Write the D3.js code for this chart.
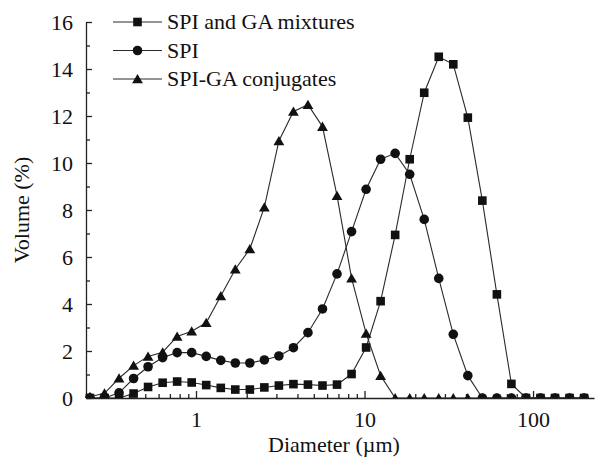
<!DOCTYPE html>
<html>
<head>
<meta charset="utf-8">
<script src="https://cdn.jsdelivr.net/npm/d3@7"></script>
<style>
  body { margin: 0; background: #fff; }
</style>
</head>
<body>
<div id="chart"></div>
<script>
// Particle size grid (µm) and volume (%)
const diameters = [0.2349, 0.2865, 0.3495, 0.4263, 0.5196, 0.634, 0.7731, 0.943, 1.150, 1.403,
  1.711, 2.087, 2.545, 3.104, 3.786, 4.617, 5.631, 6.868, 8.378, 10.22,
  12.46, 15.20, 18.54, 22.61, 27.57, 33.63, 41.02, 50.03, 61.02, 74.42,
  90.77, 110.7, 135.0, 164.7, 200.9];

const mixtures = [0, 0, 0, 0.19, 0.47, 0.65, 0.7, 0.66, 0.55, 0.43,
  0.36, 0.36, 0.45, 0.53, 0.59, 0.57, 0.53, 0.57, 1.02, 2.15,
  4.12, 6.94, 10.16, 12.99, 14.52, 14.2, 11.93, 8.4, 4.41, 0.6,
  0, 0, 0, 0, 0];

const spi = [0, 0, 0.22, 0.83, 1.33, 1.72, 1.93, 1.93, 1.77, 1.6,
  1.49, 1.49, 1.62, 1.79, 2.14, 2.78, 3.79, 5.28, 7.08, 8.88,
  10.16, 10.41, 9.52, 7.6, 5.09, 2.71, 0.95, 0, 0, 0,
  0, 0, 0, 0, 0];

const conjugates = [0.05, 0.2, 0.84, 1.38, 1.77, 1.95, 2.62, 2.84, 3.2, 4.34,
  5.48, 6.34, 8.12, 10.94, 12.19, 12.48, 11.55, 8.61, 5.1, 2.75,
  0.95, 0, 0, 0, 0, 0, 0, 0, 0, 0,
  0, 0, 0, 0, 0];

const seriesNames = ['SPI and GA mixtures', 'SPI', 'SPI-GA conjugates'];
const seriesShapes = ['square', 'circle', 'triangle'];
const seriesValues = [mixtures, spi, conjugates];

const xMajorTicks = [1, 10, 100];
const xMinorTicks = [0.3, 0.4, 0.5, 0.6, 0.7, 0.8, 0.9, 2, 3, 4, 5, 6, 7, 8, 9,
  20, 30, 40, 50, 60, 70, 80, 90, 200];
const yMajorTicks = [0, 2, 4, 6, 8, 10, 12, 14, 16];
const yMinorTicks = [1, 3, 5, 7, 9, 11, 13, 15];

const FONT = 'Liberation Serif';
const FONT_SIZE = '22px';

const W = 595, H = 459;
const margin = { top: 22, right: 1, bottom: 61, left: 86 };
const width = W - margin.left - margin.right;
const height = H - margin.top - margin.bottom;

const svg = d3.select('#chart').append('svg')
  .attr('width', W)
  .attr('height', H);

const g = svg.append('g')
  .attr('transform', `translate(${margin.left},${margin.top})`);

const x = d3.scaleLog().domain([0.2225, 230]).range([0, width]);
const y = d3.scaleLinear().domain([0, 16]).range([height, 0]);

// clip so markers sitting on zero are cut by the x axis
svg.append('defs').append('clipPath').attr('id', 'plot-clip')
  .append('rect')
  .attr('x', -10).attr('y', -20)
  .attr('width', width + 20).attr('height', height + 20);

// Axes
const xMinor = g.append('g').attr('transform', `translate(0,${height})`)
  .call(d3.axisBottom(x).tickValues(xMinorTicks).tickSize(-4).tickFormat(''));
xMinor.select('.domain').remove();

const xAxis = g.append('g').attr('transform', `translate(0,${height})`)
  .call(d3.axisBottom(x).tickValues(xMajorTicks).tickSize(-7).tickSizeOuter(0).tickFormat(d3.format('d')));
xAxis.selectAll('text').attr('y', 29).attr('dy', 0);

const yMinor = g.append('g')
  .call(d3.axisLeft(y).tickValues(yMinorTicks).tickSize(-4).tickFormat(''));
yMinor.select('.domain').remove();

const yAxis = g.append('g')
  .call(d3.axisLeft(y).tickValues(yMajorTicks).tickSize(-6).tickSizeOuter(0));
yAxis.selectAll('text').attr('x', -13).attr('dy', '0.34em');

g.selectAll('.domain, .tick line').attr('stroke', '#222').attr('stroke-width', 1.3);
[xAxis, yAxis].forEach(a => a.attr('font-family', FONT).attr('font-size', FONT_SIZE));
svg.selectAll('.tick text')
  .attr('font-family', FONT)
  .attr('font-size', FONT_SIZE)
  .attr('fill', '#111');

// axis titles
svg.append('text')
  .attr('x', 334).attr('y', 452)
  .attr('text-anchor', 'middle')
  .attr('font-family', FONT)
  .attr('font-size', FONT_SIZE)
  .attr('fill', '#111')
  .text('Diameter (µm)');

svg.append('text')
  .attr('transform', 'translate(29,210) rotate(-90)')
  .attr('text-anchor', 'middle')
  .attr('font-family', FONT)
  .attr('font-size', FONT_SIZE)
  .attr('fill', '#111')
  .text('Volume (%)');

// marker shapes
function drawMarker(sel, shape) {
  if (shape === 'square') {
    sel.append('rect').attr('x', -4.3).attr('y', -4.3).attr('width', 8.6).attr('height', 8.6);
  } else if (shape === 'circle') {
    sel.append('circle').attr('r', 4.8);
  } else {
    sel.append('path').attr('d', 'M0,-5L5.4,4.3L-5.4,4.3Z');
  }
}

const line = d3.line()
  .x((d, i) => x(diameters[i]))
  .y(d => y(d));

const plot = g.append('g').attr('clip-path', 'url(#plot-clip)');

seriesValues.forEach((vals, k) => {
  plot.append('path')
    .datum(vals)
    .attr('fill', 'none')
    .attr('stroke', '#2a2a2a')
    .attr('stroke-width', 1.1)
    .attr('d', line);

  plot.selectAll(null)
    .data(vals)
    .enter()
    .append('g')
    .attr('transform', (d, i) => `translate(${x(diameters[i])},${y(d)})`)
    .attr('fill', '#111')
    .each(function () { drawMarker(d3.select(this), seriesShapes[k]); });
});

// legend
const legend = svg.append('g');
seriesNames.forEach((name, k) => {
  const ly = 22 + k * 28.5;
  legend.append('line')
    .attr('x1', 113).attr('x2', 162)
    .attr('y1', ly).attr('y2', ly)
    .attr('stroke', '#2a2a2a').attr('stroke-width', 1.1);
  const m = legend.append('g')
    .attr('transform', `translate(137.5,${ly})`)
    .attr('fill', '#111');
  drawMarker(m, seriesShapes[k]);
  legend.append('text')
    .attr('x', 167).attr('y', ly + 7)
    .attr('font-family', FONT)
    .attr('font-size', FONT_SIZE)
    .attr('fill', '#111')
    .text(name);
});
</script>
</body>
</html>
